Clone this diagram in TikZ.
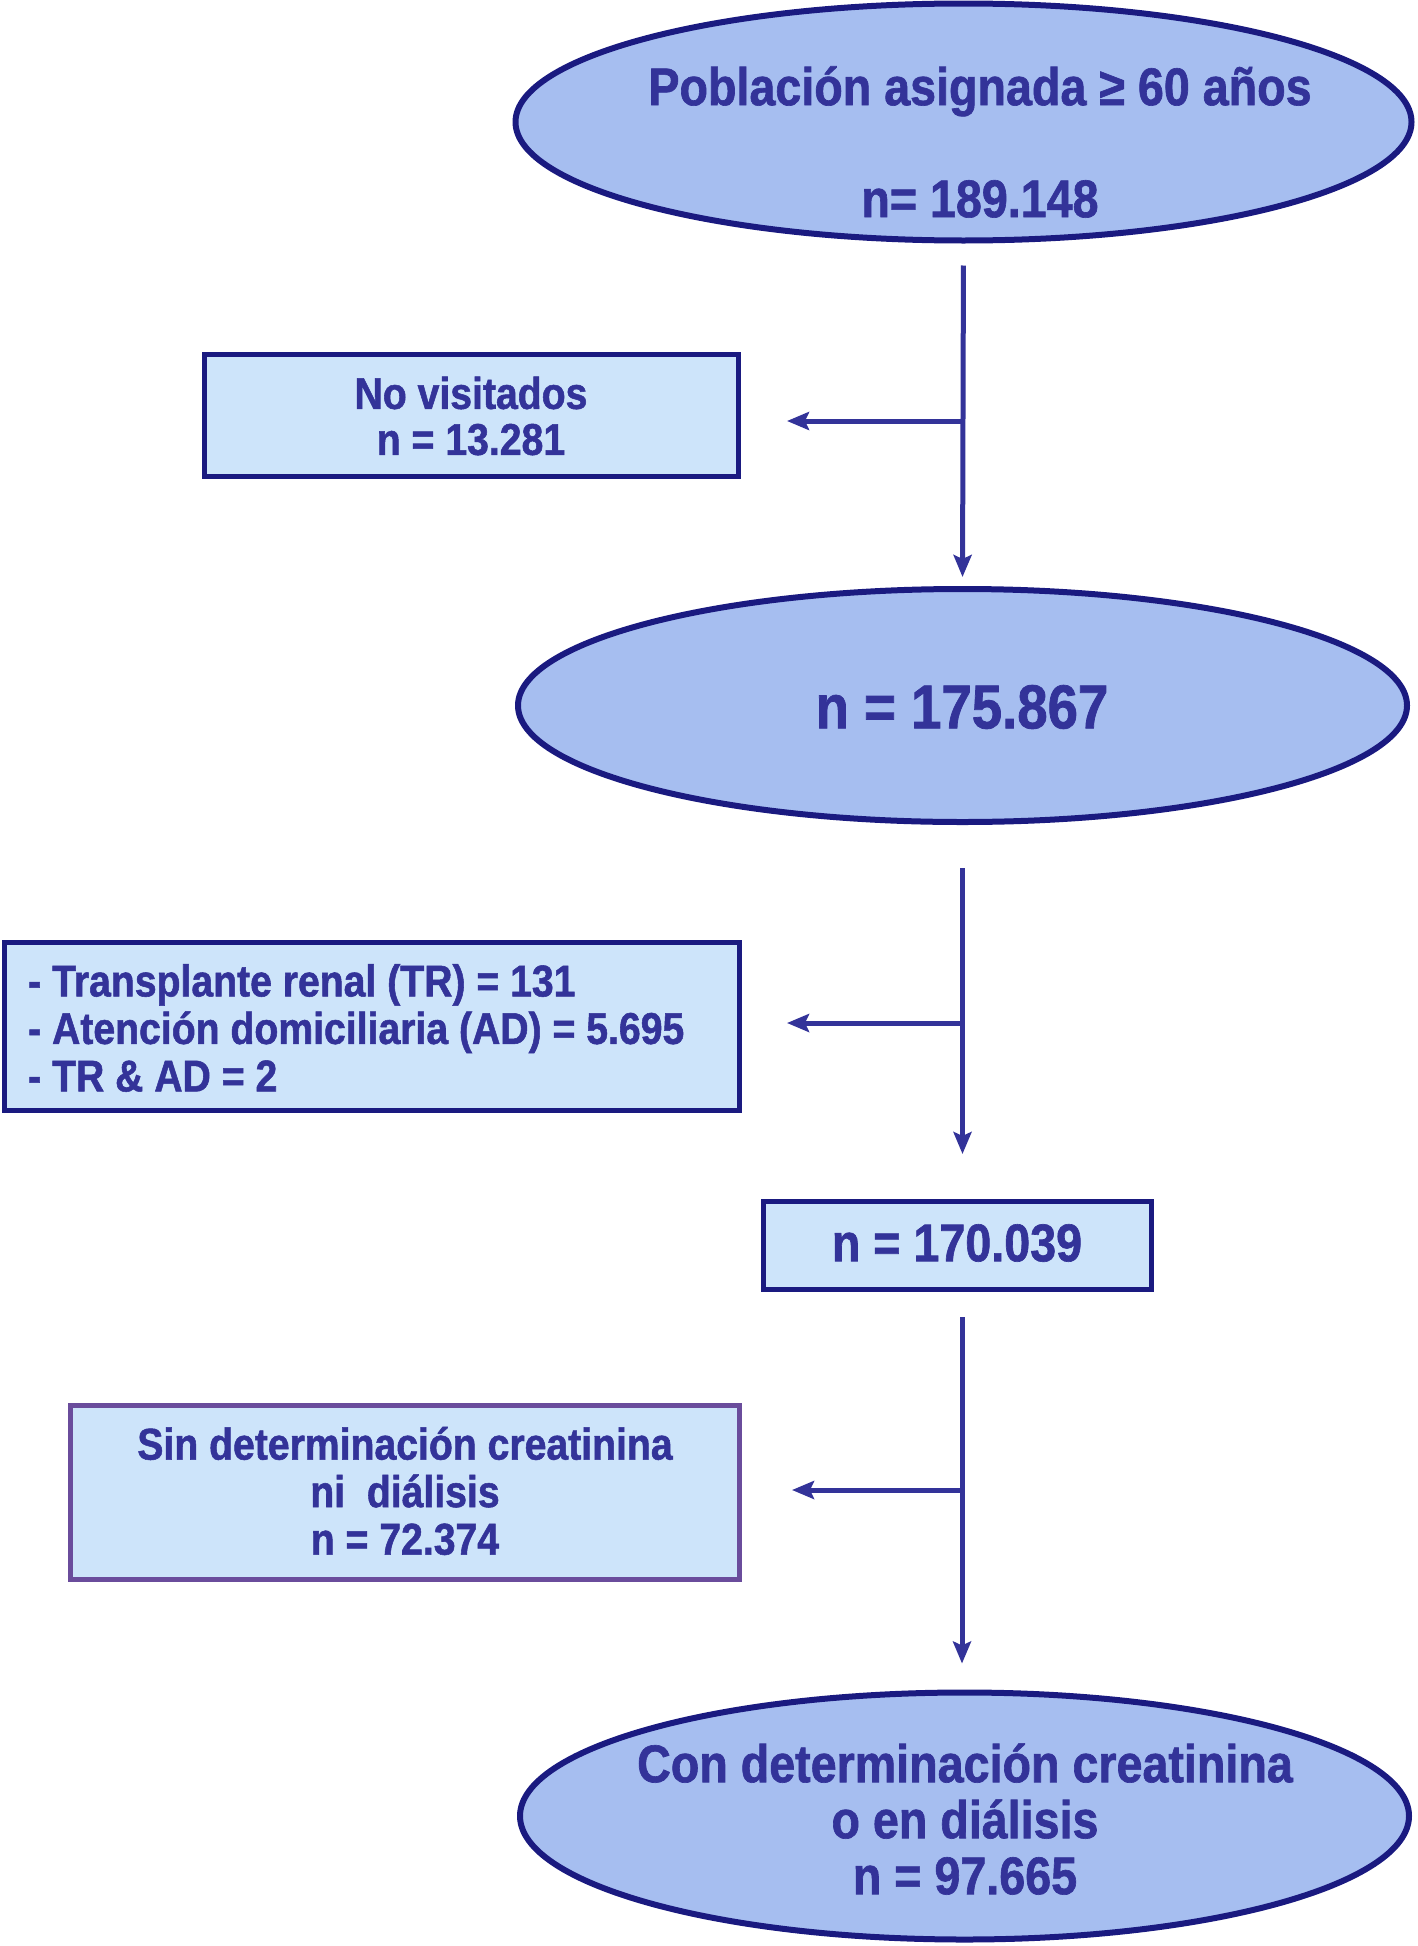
\documentclass[tikz,border=0pt]{standalone}
\usepackage{fontspec}
\setmainfont{Liberation Sans}[FakeStretch=0.88,BoldFeatures={FakeBold=1.2}]
\usetikzlibrary{shapes.geometric,arrows.meta}
\definecolor{navy}{HTML}{1A1A80}
\definecolor{txt}{HTML}{333399}
\definecolor{efill}{HTML}{A6BEF0}
\definecolor{bfill}{HTML}{CDE4FA}
\definecolor{purp}{HTML}{6A4C9C}
\begin{document}
\begin{tikzpicture}[x=1pt,y=-1pt,
  ell/.style={ellipse,draw=navy,line width=6pt,fill=efill,inner sep=0pt},
  boxx/.style={rectangle,draw=navy,line width=5pt,fill=bfill,inner sep=0pt},
  lbl/.style={text=txt,font=\bfseries,inner sep=0pt,align=center},
  conn/.style={draw=txt,line width=5pt},
  arr/.style={conn,-{Stealth[length=22pt,width=18pt,inset=4pt]}}
]
\useasboundingbox (0,0) rectangle (1417,1946);
% shapes
\node[ell,minimum width=896pt,minimum height=237pt] (e1) at (963.5,122) {};
\node[ell,minimum width=889pt,minimum height=233pt] (e2) at (962.5,705.5) {};
\node[ell,minimum width=889pt,minimum height=247pt] (e3) at (964.5,1816) {};
\node[boxx,minimum width=534pt,minimum height=122pt] (b1) at (471.5,415.5) {};
\node[boxx,minimum width=735pt,minimum height=168pt] (b2) at (372,1026.5) {};
\node[boxx,minimum width=388pt,minimum height=88pt] (b3) at (957.5,1245.5) {};
\node[boxx,draw=purp,minimum width=669pt,minimum height=174pt] (b4) at (405,1492.5) {};
% texts
\node[lbl,font=\bfseries\fontsize{53}{56}\selectfont] (t1) at (980,142) {Población asignada ≥ 60 años\\[56pt]n= 189.148};
\node[lbl,font=\bfseries\fontsize{62}{66}\selectfont] (t2) at (962,707) {n = 175.867};
\node[lbl,font=\bfseries\fontsize{44.5}{46}\selectfont] (t3) at (471,416) {No visitados\\n = 13.281};
\node[lbl,align=left,anchor=west,font=\bfseries\fontsize{44.5}{47.5}\selectfont] (t4) at (28,1028) {- Transplante renal (TR) = 131\\- Atención domiciliaria (AD) = 5.695\\- TR \& AD = 2};
\node[lbl,font=\bfseries\fontsize{53}{56}\selectfont] (t5) at (957,1243) {n = 170.039};
\node[lbl,font=\bfseries\fontsize{44.5}{47.5}\selectfont] (t6) at (405,1491) {Sin determinación creatinina\\ni\ \ diálisis\\n = 72.374};
\node[lbl,font=\bfseries\fontsize{53}{56}\selectfont] (t7) at (965,1819) {Con determinación creatinina\\o en diálisis\\n = 97.665};
% junctions
\coordinate (j1) at (963,421);
\coordinate (j2) at (964,1023);
\coordinate (j3) at (962,1490);
% connectors
\draw[arr,shorten <=22pt,shorten >=9pt] (e1.south) -- (e2.north);
\draw[arr,shorten >=46pt] (j1) -- (b1.east |- j1);
\draw[arr,shorten <=43pt,shorten >=45pt] (e2.south) -- (b3.north -| e2.south);
\draw[arr,shorten >=45pt] (j2) -- (b2.east |- j2);
\draw[arr,shorten <=25pt,shorten >=26pt] (b3.south -| j3) -- (e3.north -| j3);
\draw[arr,shorten >=50pt] (j3) -- (b4.east |- j3);
\end{tikzpicture}
\end{document}
